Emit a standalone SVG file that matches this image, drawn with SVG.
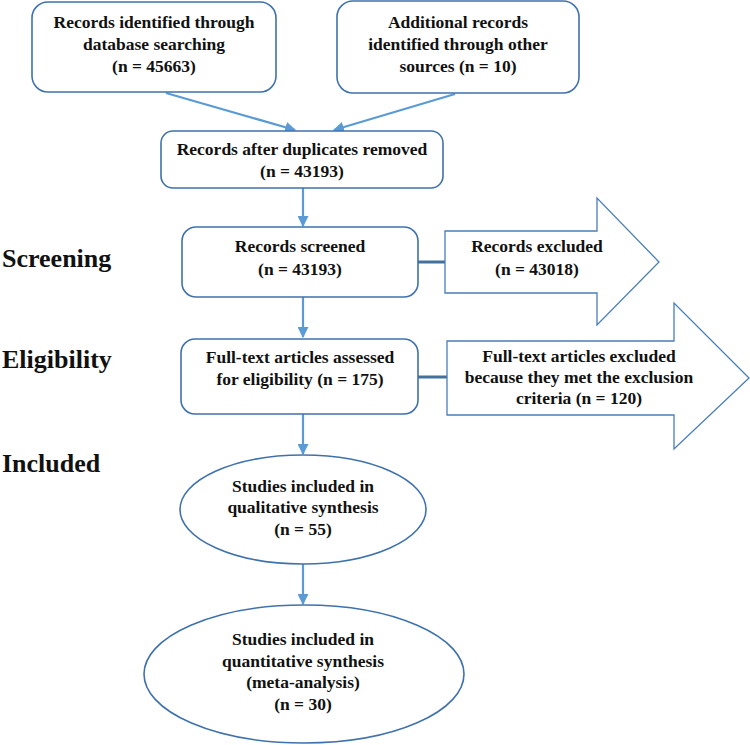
<svg xmlns="http://www.w3.org/2000/svg" width="750" height="745" viewBox="0 0 750 745">
<style>
.box{fill:#fff;stroke:#3f72ad;stroke-width:1.6}
.big{fill:#fff;stroke:#4a7ebb;stroke-width:1.3}
.t{font-family:"Liberation Serif","Times New Roman",serif;font-weight:bold;font-size:17.5px;fill:#111;text-anchor:middle}
.lab{font-family:"Liberation Serif","Times New Roman",serif;font-weight:bold;font-size:26px;fill:#111}
.arr{stroke:#5b9bd5;stroke-width:2.2;fill:none;marker-end:url(#ah)}
.hc{stroke:#41719c;stroke-width:3;fill:none}
</style>
<defs>
<marker id="ah" viewBox="0 0 10 10" refX="9" refY="5" markerWidth="5" markerHeight="5" orient="auto" markerUnits="strokeWidth">
<path d="M0,0 L10,5 L0,10 z" fill="#5b9bd5"/>
</marker>
</defs>
<rect width="750" height="745" fill="#fff"/>
<g id="labels">
<text class="lab" x="2" y="267">Screening</text>
<text class="lab" x="2" y="368">Eligibility</text>
<text class="lab" x="2" y="472">Included</text>
</g>
<g id="connectors">
<line class="arr" x1="166" y1="93" x2="295" y2="130"/>
<line class="arr" x1="455" y1="94" x2="334" y2="130"/>
<line class="arr" x1="303" y1="188" x2="303" y2="226"/>
<line class="arr" x1="303" y1="297" x2="303" y2="337"/>
<line class="arr" x1="303" y1="414" x2="303" y2="454"/>
<line class="arr" x1="303" y1="564" x2="303" y2="604"/>
<line class="hc" x1="418" y1="262" x2="445" y2="262"/>
<line class="hc" x1="418" y1="377" x2="447" y2="377"/>
</g>
<g id="n1">
<rect class="box" x="32" y="2" width="244" height="90" rx="16"/>
<text class="t" x="154" y="28">Records identified through</text>
<text class="t" x="154" y="50">database searching</text>
<text class="t" x="154" y="72">(n = 45663)</text>
</g>
<g id="n2">
<rect class="box" x="337" y="1" width="242" height="92" rx="16"/>
<text class="t" x="458" y="28">Additional records</text>
<text class="t" x="458" y="50">identified through other</text>
<text class="t" x="458" y="72">sources (n = 10)</text>
</g>
<g id="n3">
<rect class="box" x="161" y="131" width="282" height="57" rx="12"/>
<text class="t" x="302" y="155">Records after duplicates removed</text>
<text class="t" x="302" y="177">(n = 43193)</text>
</g>
<g id="n4">
<rect class="box" x="182" y="227" width="236" height="70" rx="14"/>
<text class="t" x="300" y="252">Records screened</text>
<text class="t" x="300" y="275">(n = 43193)</text>
</g>
<g id="n5">
<path class="big" d="M445,231 H597 V198 L659,262 L597,325 V293 H445 Z"/>
<text class="t" x="537" y="252">Records excluded</text>
<text class="t" x="537" y="275">(n = 43018)</text>
</g>
<g id="n6">
<rect class="box" x="181" y="339" width="237" height="75" rx="14"/>
<text class="t" x="300" y="363">Full-text articles assessed</text>
<text class="t" x="300" y="385">for eligibility (n = 175)</text>
</g>
<g id="n7">
<path class="big" d="M447,341 H674 V303 L749,378 L674,449 V415 H447 Z"/>
<text class="t" x="579" y="362">Full-text articles excluded</text>
<text class="t" x="579" y="383">because they met the exclusion</text>
<text class="t" x="579" y="404">criteria (n = 120)</text>
</g>
<g id="n8">
<ellipse class="box" cx="303" cy="509.5" rx="123" ry="54.5"/>
<text class="t" x="303" y="492">Studies included in</text>
<text class="t" x="303" y="513">qualitative synthesis</text>
<text class="t" x="303" y="535">(n = 55)</text>
</g>
<g id="n9">
<ellipse class="box" cx="304" cy="674" rx="160" ry="69"/>
<text class="t" x="303" y="645">Studies included in</text>
<text class="t" x="303" y="667">quantitative synthesis</text>
<text class="t" x="303" y="688">(meta-analysis)</text>
<text class="t" x="303" y="710">(n = 30)</text>
</g>
</svg>
